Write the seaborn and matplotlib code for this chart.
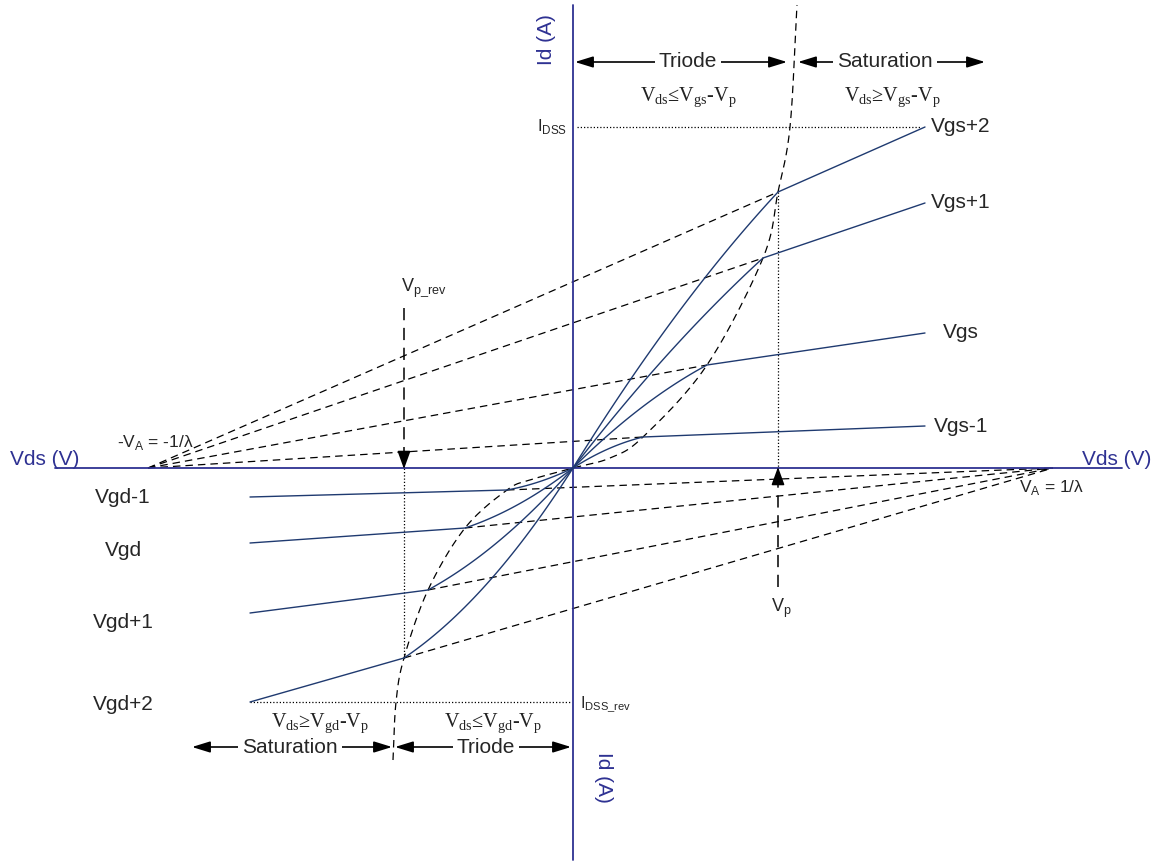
import numpy as np
import pandas as pd
import matplotlib
matplotlib.use("Agg")
import matplotlib.pyplot as plt
import seaborn as sns

# values (units: pixels from the axes crossing, Id up)
fwd_labels = ["Vgs-1", "Vgs", "Vgs+1", "Vgs+2"]
fwd_knee_vds = [70, 134, 190, 205]
fwd_knee_id = [31, 103, 210, 276]
fwd_end_id = [42, 135, 265, 341]
fwd_bow = [0.45, 0.3, 0.17, 0.2]
fwd_end_vds = 352

rev_labels = ["Vgd-1", "Vgd", "Vgd+1", "Vgd+2"]
rev_knee_vds = [-66, -108, -145, -169]
rev_knee_id = [-22, -60, -122, -190]
rev_end_id = [-29, -75, -145, -234]
rev_bow = [0.45, 0.4, 0.35, 0.4]
rev_end_vds = -323

va_left = -425
va_right = 480

# pinch-off locus (dashed curve), bottom to top
locus_vds = [-180, -177, -169, -145, -108, -66, -43, 0, 37, 70, 134, 190, 205, 217, 224]
locus_id = [-292, -234, -190, -122, -60, -22, -12, 0, 10, 31, 103, 210, 276, 341, 463]

NAVY_AX = "#2E3192"
NAVY = "#1F3A70"
DASH = (0, (6, 4))
DOT = (0, (1, 1.6))


def catmull_rom(xs, ys, n=24):
    p = np.column_stack([xs, ys]).astype(float)
    p = np.vstack([2 * p[0] - p[1], p, 2 * p[-1] - p[-2]])
    out = []
    t = np.linspace(0, 1, n, endpoint=False)[:, None]
    for i in range(1, len(p) - 2):
        p0, p1, p2, p3 = p[i - 1], p[i], p[i + 1], p[i + 2]
        out.append(0.5 * (2 * p1 + (-p0 + p2) * t
                          + (2 * p0 - 5 * p1 + 4 * p2 - p3) * t ** 2
                          + (-p0 + 3 * p1 - 3 * p2 + p3) * t ** 3))
    out.append(p[-2][None])
    pts = np.vstack(out)
    return pts[:, 0], pts[:, 1]


# solid output curves: triode part from origin to knee, then saturation line
rows = []
u = np.linspace(0, 1, 40)
for lab, kx, ky, ey, b in zip(fwd_labels, fwd_knee_vds, fwd_knee_id, fwd_end_id, fwd_bow):
    for vx, vy in zip(kx * u, ky * (u + b * u * (1 - u))):
        rows.append((lab, vx, vy))
    rows.append((lab, fwd_end_vds, ey))
for lab, kx, ky, ey, b in zip(rev_labels, rev_knee_vds, rev_knee_id, rev_end_id, rev_bow):
    for vx, vy in zip(kx * u, ky * (u + b * u * (1 - u))):
        rows.append((lab, vx, vy))
    rows.append((lab, rev_end_vds, ey))
df = pd.DataFrame(rows, columns=["curve", "vds", "id"])

sns.set_theme(style="white")
plt.rcParams["font.family"] = ["Liberation Sans", "DejaVu Sans"]
plt.rcParams["mathtext.fontset"] = "custom"
plt.rcParams["mathtext.rm"] = "Liberation Sans"
SERIF = ["Liberation Serif", "DejaVu Serif"]

fig = plt.figure(figsize=(11.53, 8.63), dpi=100)
ax = fig.add_axes([0, 0, 1, 1])
ax.set_xlim(-573, 580)
ax.set_ylim(-395, 468)
ax.axis("off")

# axes
ax.plot([-518, 549], [0, 0], color=NAVY_AX, lw=1.3, zorder=3)
ax.plot([0, 0], [-392, 463], color=NAVY_AX, lw=1.3, zorder=3)

sns.lineplot(data=df, x="vds", y="id", units="curve", estimator=None, sort=False,
             color=NAVY, lw=1.0, legend=False, ax=ax, zorder=4)

# extrapolated saturation lines to +-VA
for kx, ky in zip(fwd_knee_vds, fwd_knee_id):
    ax.plot([va_left, kx], [0, ky], color="black", lw=0.9, ls=DASH, zorder=2)
for kx, ky in zip(rev_knee_vds, rev_knee_id):
    ax.plot([kx, va_right], [ky, 0], color="black", lw=0.9, ls=DASH, zorder=2)

lx, ly = catmull_rom(locus_vds, locus_id)
ax.plot(lx, ly, color="black", lw=0.9, ls=DASH, zorder=2)

# curve labels
for lab, ey in zip(fwd_labels, fwd_end_id):
    ax.text(fwd_end_vds + 36, ey, lab, ha="center", va="center", fontsize=15)
rev_nudge = [0, -8, -9, -2]
for lab, ey, dy in zip(rev_labels, rev_end_id, rev_nudge):
    ax.text(rev_end_vds - 127, ey + dy, lab, ha="center", va="center", fontsize=15)

# IDSS lines
idss = fwd_end_id[-1]
idss_rev = rev_end_id[-1]
ax.plot([4, fwd_end_vds - 5], [idss, idss], color="black", lw=0.9, ls=DOT, zorder=2)
ax.plot([rev_end_vds, -3], [idss_rev, idss_rev], color="black", lw=0.9, ls=DOT, zorder=2)
ax.text(-6, idss, r"I$_\mathregular{DSS}$", ha="right", va="center", fontsize=12)
ax.text(7, idss_rev - 2, r"I$_\mathregular{DSS\_rev}$", ha="left", va="center", fontsize=11.5)

# Vp markers
vp = fwd_knee_vds[-1]
vp_rev = rev_knee_vds[-1]
ax.plot([vp, vp], [fwd_knee_id[-1], 0], color="black", lw=0.9, ls=DOT, zorder=2)
ax.plot([vp_rev, vp_rev], [rev_knee_id[-1], 0], color="black", lw=0.9, ls=DOT, zorder=2)
ax.plot([vp, vp], [-119, -12], color="black", lw=1.1, ls=(0, (8, 5)), zorder=3)
ax.plot([vp_rev, vp_rev], [160, 12], color="black", lw=1.1, ls=(0, (8, 5)), zorder=3)
head = dict(arrowstyle="-|>,head_length=0.55,head_width=0.2", color="black",
            lw=1.1, mutation_scale=20, shrinkA=0, shrinkB=0)
ax.annotate("", xy=(vp, 1), xytext=(vp, -16), arrowprops=head, zorder=4)
ax.annotate("", xy=(vp_rev, -1), xytext=(vp_rev, 16), arrowprops=head, zorder=4)
ax.text(vp + 3, -140, r"V$_\mathregular{p}$", ha="center", va="center", fontsize=13)
ax.text(vp_rev - 3, 180, r"V$_\mathregular{p\_rev}$", ha="left", va="center", fontsize=13)

ax.text(-418, 26, r"-V$_\mathregular{A}$ = -1/λ", ha="center", va="center", fontsize=12.5)
ax.text(479, -19, r"V$_\mathregular{A}$ = 1/λ", ha="center", va="center", fontsize=12.5)

# region arrows
dbl = dict(arrowstyle="<|-|>,head_length=0.55,head_width=0.17", color="black",
           lw=1.2, mutation_scale=20, shrinkA=0, shrinkB=0)


def region(x0, x1, y, label, cx):
    ax.annotate("", xy=(x1, y), xytext=(x0, y), arrowprops=dbl, zorder=3)
    ax.text(cx, y, label, ha="center", va="center", fontsize=15, zorder=5,
            bbox=dict(facecolor="white", edgecolor="none", pad=3))


region(2, 214, 406, "Triode", 115)
region(225, 412, 406, "Saturation", 312)
region(-381, -181, -279, "Saturation", -283)
region(-178, -2, -279, "Triode", -87)

cond = [(115, 371, r"V$_\mathregular{ds}$≤V$_\mathregular{gs}$-V$_\mathregular{p}$"),
        (319, 371, r"V$_\mathregular{ds}$≥V$_\mathregular{gs}$-V$_\mathregular{p}$"),
        (-253, -255, r"V$_\mathregular{ds}$≥V$_\mathregular{gd}$-V$_\mathregular{p}$"),
        (-80, -255, r"V$_\mathregular{ds}$≤V$_\mathregular{gd}$-V$_\mathregular{p}$")]
for cx, cy, s in cond:
    ax.text(cx, cy, s, ha="center", va="center", fontsize=14.5, family=SERIF, color="#222222")

# axis titles
ax.text(-563, 3, "Vds (V)", ha="left", va="baseline", fontsize=15, color=NAVY_AX)
ax.text(509, 3, "Vds (V)", ha="left", va="baseline", fontsize=15, color=NAVY_AX)
ax.text(-27, 428, "Id (A)", ha="center", va="center", rotation=90, fontsize=15, color=NAVY_AX)
ax.text(31, -309, "Id (A)", ha="center", va="center", rotation=-90, fontsize=15, color=NAVY_AX)

fig.savefig("out.png", dpi=100, facecolor="white")
